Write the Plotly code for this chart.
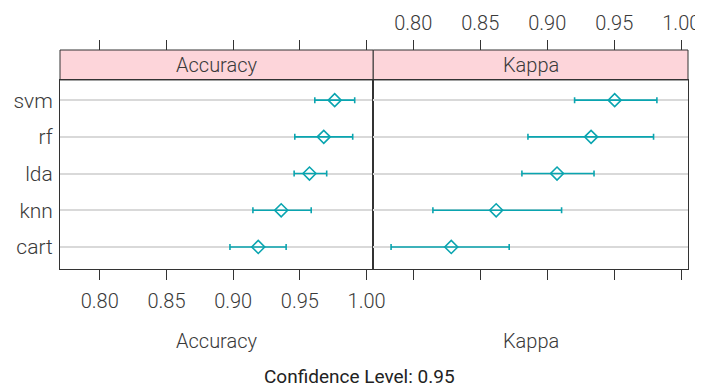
import plotly.graph_objects as go

models = ["cart", "knn", "lda", "rf", "svm"]
acc_mean = [0.9188, 0.9360, 0.9572, 0.9679, 0.9761]
acc_lo = [0.8976, 0.9148, 0.9457, 0.9462, 0.9612]
acc_hi = [0.9397, 0.9585, 0.9701, 0.9896, 0.9911]
kap_mean = [0.8284, 0.8619, 0.9073, 0.9327, 0.9503]
kap_lo = [0.7835, 0.8147, 0.8811, 0.8856, 0.9204]
kap_hi = [0.8716, 0.9107, 0.9349, 0.9793, 0.9818]
tick_vals = [0.80, 0.85, 0.90, 0.95, 1.00]
tick_text = ["0.80", "0.85", "0.90", "0.95", "1.00"]
panels = ["Accuracy", "Kappa"]

TEAL = "#0AA5B0"
LINE = "#333333"
STRIP = "#FDD5DA"
XR = [0.7702, 1.0050]
YR = [-0.6, 4.55]
YTOP = 0.8632
FAM = "Roboto Light, Roboto"
LIGHT = dict(family=FAM, size=20, color="#3a3a3a", weight=300)

fig = go.Figure()

def add_panel(mean, lo, hi, xa, ya):
    fig.add_trace(go.Scatter(
        x=mean, y=models, mode="markers", xaxis=xa, yaxis=ya,
        marker=dict(symbol="diamond-open", size=10, color=TEAL, line=dict(width=1.6, color=TEAL)),
        error_x=dict(type="data", symmetric=False,
                     array=[h - m for h, m in zip(hi, mean)],
                     arrayminus=[m - l for m, l in zip(mean, lo)],
                     color=TEAL, thickness=1.6, width=3),
        showlegend=False, hoverinfo="x+y"))

add_panel(acc_mean, acc_lo, acc_hi, "x", "y")
add_panel(kap_mean, kap_lo, kap_hi, "x2", "y2")
# invisible traces for overlay top axes
fig.add_trace(go.Scatter(x=[XR[0]], y=[models[0]], xaxis="x3", yaxis="y", mode="markers",
                         marker=dict(opacity=0), showlegend=False, hoverinfo="skip"))
fig.add_trace(go.Scatter(x=[XR[0]], y=[models[0]], xaxis="x4", yaxis="y2", mode="markers",
                         marker=dict(opacity=0), showlegend=False, hoverinfo="skip"))

D1 = [0, 0.4988]
D2 = [0.4988, 1]
common_x = dict(range=XR, tickvals=tick_vals, ticktext=tick_text, ticks="outside",
                ticklen=10, tickcolor=LINE, tickwidth=1, showgrid=False, zeroline=False,
                tickfont=LIGHT, fixedrange=True, automargin=False)
fig.update_layout(
    width=703, height=387,
    margin=dict(l=51.5, r=23, t=42, b=125.7, autoexpand=False),
    paper_bgcolor="white", plot_bgcolor="white",
    xaxis=dict(domain=D1, anchor="y", showline=True, mirror=True, linecolor=LINE, linewidth=1,
               ticklabelstandoff=4, **common_x),
    xaxis2=dict(domain=D2, anchor="y2", showline=True, mirror=True, linecolor=LINE, linewidth=1,
                showticklabels=False, **common_x),
    xaxis3=dict(overlaying="x", side="top", anchor="free", position=1, showline=False,
                showticklabels=False, **common_x),
    xaxis4=dict(overlaying="x2", side="top", anchor="free", position=1, showline=False,
                showticklabels=True, ticklabelstandoff=2, **common_x),
    yaxis=dict(domain=[0, YTOP], anchor="x", type="category", categoryorder="array",
               categoryarray=models, range=YR, showline=True, mirror=True, linecolor=LINE,
               linewidth=1, showgrid=True, gridcolor="#D9D9D9", gridwidth=1.5, ticks="",
               tickfont=dict(family=FAM, size=21, color="#3a3a3a", weight=300),
               ticklabelstandoff=2,
               zeroline=False, fixedrange=True, automargin=False),
    yaxis2=dict(domain=[0, YTOP], anchor="x2", type="category", categoryorder="array",
                categoryarray=models, range=YR, showline=True, mirror=True, linecolor=LINE,
                linewidth=1, showgrid=True, gridcolor="#D9D9D9", gridwidth=1.5, ticks="",
                showticklabels=False, zeroline=False, fixedrange=True, automargin=False),
)

shapes = []
annotations = []
for i, (name, xa) in enumerate(zip(panels, ["x", "x2"])):
    shapes.append(dict(type="rect", xref=f"{xa} domain", yref="paper", x0=0, x1=1, y0=YTOP, y1=1,
                       fillcolor=STRIP, line=dict(color=LINE, width=1), layer="below"))
    annotations.append(dict(text=name, xref=f"{xa} domain", yref="paper", x=0.5, y=(YTOP + 1) / 2,
                            showarrow=False, font=LIGHT, xanchor="center", yanchor="middle"))
    annotations.append(dict(text=name, xref=f"{xa} domain", yref="paper", x=0.5, y=-0.327,
                            showarrow=False, font=LIGHT, xanchor="center", yanchor="middle"))
annotations.append(dict(text="Confidence Level: 0.95", xref="paper", yref="paper", x=0.477, y=-0.49,
                        showarrow=False, xanchor="center", yanchor="middle",
                        font=dict(family="Roboto", size=19, color="#222222", weight=400)))
fig.update_layout(shapes=shapes, annotations=annotations)

fig.write_html("out.html")
